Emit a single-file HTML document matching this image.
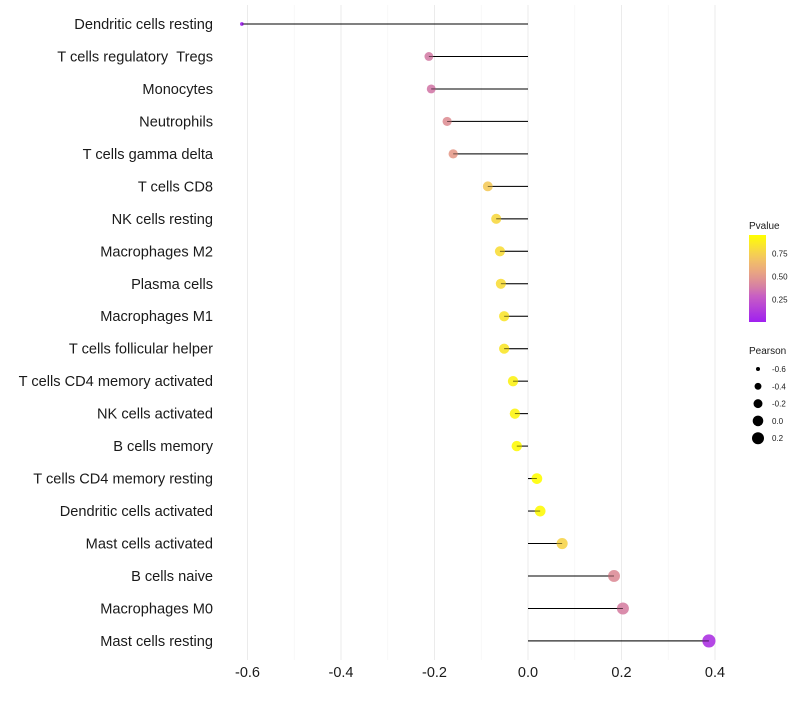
<!DOCTYPE html>
<html><head><meta charset="utf-8"><style>
body{margin:0;background:#fff;font-family:"Liberation Sans",sans-serif;}
</style></head><body>
<svg id="c" width="800" height="700" xmlns="http://www.w3.org/2000/svg"></svg>
<script>
const categories=["Dendritic cells resting","T cells regulatory \u00a0Tregs","Monocytes","Neutrophils","T cells gamma delta","T cells CD8","NK cells resting","Macrophages M2","Plasma cells","Macrophages M1","T cells follicular helper","T cells CD4 memory activated","NK cells activated","B cells memory","T cells CD4 memory resting","Dendritic cells activated","Mast cells activated","B cells naive","Macrophages M0","Mast cells resting"];
const pearson=[-0.612,-0.212,-0.207,-0.173,-0.16,-0.086,-0.068,-0.06,-0.058,-0.051,-0.051,-0.032,-0.028,-0.024,0.019,0.026,0.073,0.184,0.203,0.387];
const pvalue=[0.005,0.38,0.37,0.45,0.5,0.72,0.78,0.8,0.8,0.83,0.84,0.89,0.9,0.92,0.94,0.92,0.76,0.44,0.39,0.09];
const xTicks=[-0.6,-0.4,-0.2,0.0,0.2,0.4];
const pTicks=[0.25,0.5,0.75];
const sizeTicks=[-0.6,-0.4,-0.2,0.0,0.2];
const NS="http://www.w3.org/2000/svg";
const svg=document.getElementById('c');
function x(v){return 528+v*467.5;}
function y(i){return 24+i*32.47;}
function rad(r){return Math.sqrt(Math.max(1,28+40*r));}
function lerp(a,b,t){return a+(b-a)*t;}
function col(p){const lo=0.003,hi=0.946;let t=Math.min(1,Math.max(0,(p-lo)/(hi-lo)));
const s=[[160,32,240],[200,95,195],[215,132,160],[232,160,135],[244,200,95],[255,255,0]],st=[0,0.3,0.42,0.55,0.75,1];
let k=0;while(k<st.length-2&&t>st[k+1])k++;const u=(t-st[k])/(st[k+1]-st[k]);
return `rgb(${s[k].map((c,j)=>Math.round(lerp(c,s[k+1][j],u))).join(',')})`;}
function el(t,a,p){const e=document.createElementNS(NS,t);for(const k in a)e.setAttribute(k,a[k]);(p||svg).appendChild(e);return e;}
for(let v=-0.6;v<=0.45;v+=0.1){const major=Math.abs(Math.round(v*10)%2)===0;
const g=el('line',{x1:x(v),x2:x(v),y1:5,y2:660,stroke:major?'#ebebeb':'#f4f4f4','stroke-width':major?1:0.6});

}
xTicks.forEach(v=>{const t=el('text',{x:x(v),y:677,'text-anchor':'middle','font-size':14.5,fill:'#1a1a1a'});t.textContent=v.toFixed(1);

});
categories.forEach((c,i)=>{
const t=el('text',{x:213,y:y(i)+5,'text-anchor':'end','font-size':14.6,fill:'#1a1a1a'});t.textContent=c;


const l=el('line',{x1:x(0),x2:x(pearson[i]),y1:y(i),y2:y(i),stroke:'#000','stroke-width':1});


const d=el('circle',{cx:x(pearson[i]),cy:y(i),r:rad(pearson[i]),fill:col(pvalue[i]),'fill-opacity':0.9});


const l2=el('line',{x1:x(0),x2:x(pearson[i]),y1:y(i),y2:y(i),stroke:'#000','stroke-width':0.8,'stroke-opacity':0.6});


});
const lt=el('text',{x:749,y:229,'font-size':10,fill:'#1a1a1a'});lt.textContent='Pvalue';


const defs=el('defs',{});const lg=el('linearGradient',{id:'pg',x1:0,y1:1,x2:0,y2:0},defs);
for(let k=0;k<=10;k++)el('stop',{offset:k/10,'stop-color':col(0.003+k/10*0.943)},lg);
const bar=el('rect',{x:749,y:235,width:17,height:87,fill:'url(#pg)'});


function py(p){return 322-(p-0.003)/(0.943)*87;}
pTicks.forEach(p=>{const t=el('text',{x:772,y:py(p)+3.5,'font-size':8,fill:'#1a1a1a'});t.textContent=p.toFixed(2);

});
const st=el('text',{x:749,y:354,'font-size':10,fill:'#1a1a1a'});st.textContent='Pearson';


sizeTicks.forEach((r,i)=>{const cy=369+i*17.3;
const c=el('circle',{cx:758,cy:cy,r:rad(r),fill:'#000'});


const t=el('text',{x:772,y:cy+3,'font-size':8,fill:'#1a1a1a'});t.textContent=r.toFixed(1);

});
</script>
</body></html>
